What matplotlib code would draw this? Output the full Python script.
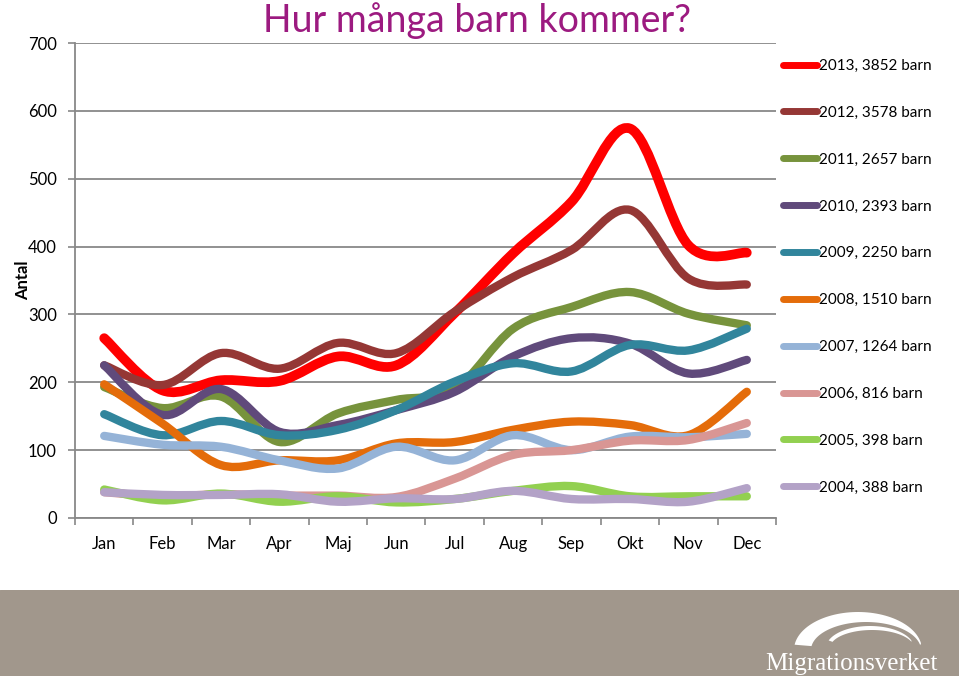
import numpy as np
import matplotlib
matplotlib.use('Agg')
import matplotlib.pyplot as plt
from matplotlib.path import Path
from matplotlib.patches import PathPatch, Polygon, Rectangle
from matplotlib.lines import Line2D

months = ['Jan', 'Feb', 'Mar', 'Apr', 'Maj', 'Jun', 'Jul', 'Aug', 'Sep', 'Okt', 'Nov', 'Dec']
labels = ['2013, 3852 barn', '2012, 3578 barn', '2011, 2657 barn', '2010, 2393 barn', '2009, 2250 barn',
          '2008, 1510 barn', '2007, 1264 barn', '2006, 816 barn', '2005, 398 barn', '2004, 388 barn']

y2013 = [265, 188, 203, 202, 238, 225, 302, 390, 466, 574, 402, 391]
y2012 = [225, 196, 243, 220, 258, 243, 304, 355, 395, 454, 353, 344]
y2011 = [193, 162, 179, 112, 154, 174, 190, 279, 311, 333, 301, 284]
y2010 = [225, 152, 190, 127, 137, 159, 186, 238, 265, 257, 213, 233]
y2009 = [153, 122, 143, 122, 130, 159, 201, 228, 216, 255, 247, 279]
y2008 = [197, 139, 78, 85, 85, 110, 112, 130, 142, 137, 122, 186]
y2007 = [121, 108, 105, 85, 73, 105, 85, 122, 100, 120, 119, 124]
y2006 = [38, 32, 35, 33, 33, 31, 58, 93, 100, 114, 115, 140]
y2005 = [42, 26, 36, 24, 32, 23, 28, 40, 47, 32, 32, 32]
y2004 = [38, 34, 34, 35, 24, 29, 28, 40, 28, 28, 24, 44]

series = [y2013, y2012, y2011, y2010, y2009, y2008, y2007, y2006, y2005, y2004]
colors = ['#FF0000', '#953735', '#77933C', '#604A7B', '#31859C',
          '#E46C0A', '#95B3D7', '#D99694', '#92D050', '#B3A2C7']
widths = [7, 6, 6, 6, 6, 6, 6, 6, 6, 6]

font = 'Lato'
gray = '#888888'


def smooth_path(x, y):
    # Excel style smoothed line: cubic bezier through each point
    pts = np.column_stack([x, y]).astype(float)
    n = len(pts)
    verts = [pts[0]]
    codes = [Path.MOVETO]
    for i in range(n - 1):
        p0 = pts[max(i - 1, 0)]
        p1 = pts[i]
        p2 = pts[i + 1]
        p3 = pts[min(i + 2, n - 1)]
        verts += [p1 + (p2 - p0) / 6, p2 - (p3 - p1) / 6, p2]
        codes += [Path.CURVE4] * 3
    return Path(verts, codes)


fig = plt.figure(figsize=(9.59, 6.76), dpi=100)
ax = fig.add_axes([75 / 959, 1 - 518 / 676, (776 - 75) / 959, (518 - 43) / 676])

x = np.arange(len(months))
for vals, c, lw in zip(series, colors, widths):
    patch = PathPatch(smooth_path(x, vals), facecolor='none', edgecolor=c, lw=lw,
                      capstyle='round', joinstyle='round')
    ax.add_patch(patch)

ax.set_xlim(-0.5, 11.5)
ax.set_ylim(0, 700)
ax.set_yticks(range(0, 701, 100))
ax.yaxis.grid(True, color=gray, lw=1.3)
ax.set_axisbelow(True)
ax.set_xticks(np.arange(-0.5, 12, 1))
ax.set_xticklabels([])
ax.set_xticks(x, minor=True)
ax.set_xticklabels(months, minor=True, fontsize=12, family=font)
ax.tick_params(axis='x', which='minor', length=0, pad=13)
ax.tick_params(axis='x', which='major', length=5, color=gray, width=1.2)
ax.tick_params(axis='y', length=5, color=gray, width=1.2, pad=8)
for t in ax.get_yticklabels():
    t.set_fontsize(12)
    t.set_family(font)
for s in ['top', 'right']:
    ax.spines[s].set_visible(False)
for s in ['left', 'bottom']:
    ax.spines[s].set_color(gray)
    ax.spines[s].set_linewidth(1.3)
ax.set_ylabel('Antal', fontsize=12, fontweight='bold', family=font)
ax.yaxis.set_label_coords(-44 / 701, 0.5)

handles = [Line2D([], [], color=c, lw=5, solid_capstyle='round') for c in colors]
fig.legend(handles, labels, loc='upper left', bbox_to_anchor=(783 / 959, 1 - 59 / 676),
           frameon=False, prop={'family': font, 'size': 11},
           handlelength=2.2, handletextpad=0.15, labelspacing=2.15,
           borderpad=0, borderaxespad=0)

fig.text(477 / 959, 1 - 32 / 676, 'Hur många barn kommer?', color='#9C1A80',
         fontsize=27, family=font, ha='center', va='baseline')

# bottom band with logo
band = fig.add_axes([0, 0, 1, 86 / 676])
band.set_xlim(0, 959)
band.set_ylim(676, 590)
band.axis('off')
band.add_patch(Rectangle((0, 590), 959, 86, color='#A1978C'))

t = np.linspace(np.radians(172), np.radians(10), 60)
outer = np.column_stack([858 + 64 * np.cos(t), 650 - 38 * np.sin(t)])
inner = np.column_stack([866 + 55 * np.cos(t[::-1]), 650 - 28 * np.sin(t[::-1])])
band.add_patch(Polygon(np.vstack([outer, inner]), closed=True, color='white', lw=0))
t2 = np.linspace(np.radians(160), np.radians(20), 60)
outer2 = np.column_stack([870 + 44 * np.cos(t2), 648 - 22 * np.sin(t2)])
inner2 = np.column_stack([872 + 42 * np.cos(t2[::-1]), 648 - 18 * np.sin(t2[::-1])])
band.add_patch(Polygon(np.vstack([outer2, inner2]), closed=True, color='white', lw=0))
band.text(851, 664, 'Migrationsverket', color='white', fontsize=18,
          family='Liberation Serif', ha='center', va='center')

fig.savefig('out.png', dpi=100)
